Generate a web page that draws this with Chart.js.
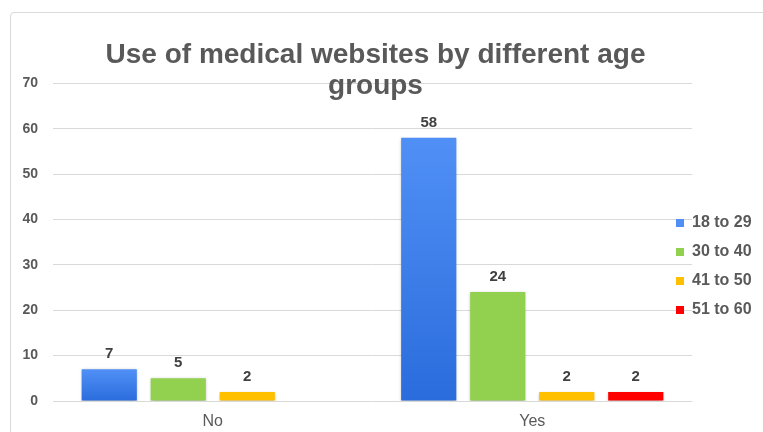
<!DOCTYPE html>
<html>
<head>
<meta charset="utf-8">
<script src="https://cdn.jsdelivr.net/npm/chart.js@4.4.1/dist/chart.umd.min.js"></script>
<style>
  html, body { margin: 0; padding: 0; background: #fff; overflow: hidden; }
  #wrap { position: relative; width: 763px; height: 432px; }
  #frame {
    position: absolute; left: 10px; top: 12px; width: 800px; height: 500px;
    border: 1px solid #d9d9d9; border-radius: 4px; box-sizing: border-box;
  }
  canvas { position: absolute; left: 0; top: 0; }
</style>
</head>
<body>
<div id="wrap">
  <div id="frame"></div>
  <canvas id="chart" width="763" height="432"></canvas>
</div>
<script>
const answers = ["No", "Yes"];
const ageGroups = ["18 to 29", "30 to 40", "41 to 50", "51 to 60"];
const age18to29 = [7, 58];
const age30to40 = [5, 24];
const age41to50 = [2, 2];
const age51to60 = [null, 2];
const yTicks = [0, 10, 20, 30, 40, 50, 60, 70];

const FONT = '"Liberation Sans", Arial, Helvetica, sans-serif';

// excel-ish vertical gradient, one per bar
function blueFill(context) {
  if (context.type !== "data" || context.raw == null) return "#3d82ee";
  const y = context.chart.scales.y;
  if (!y) return "#3d82ee";
  const top = y.getPixelForValue(context.raw);
  const base = y.getPixelForValue(0);
  if (!isFinite(top) || !isFinite(base)) return "#3d82ee";
  const g = context.chart.ctx.createLinearGradient(0, top, 0, base);
  g.addColorStop(0, "#5090f6");
  g.addColorStop(1, "#2a6cdc");
  return g;
}

const barShadow = {
  id: "barShadow",
  beforeDatasetDraw(chart) {
    const ctx = chart.ctx;
    ctx.save();
    ctx.shadowColor = "rgba(0,0,0,0.3)";
    ctx.shadowBlur = 3;
    ctx.shadowOffsetY = 1;
  },
  afterDatasetDraw(chart) {
    chart.ctx.restore();
  }
};

const valueLabels = {
  id: "valueLabels",
  afterDatasetsDraw(chart) {
    const ctx = chart.ctx;
    ctx.save();
    ctx.font = "bold 15px " + FONT;
    ctx.fillStyle = "#404040";
    ctx.textAlign = "center";
    ctx.textBaseline = "middle";
    chart.data.datasets.forEach((ds, i) => {
      chart.getDatasetMeta(i).data.forEach((bar, j) => {
        const v = ds.data[j];
        if (v == null) return;
        ctx.fillText(String(v), bar.x, bar.y - 15);
      });
    });
    ctx.restore();
  }
};

// legend sits partly over the plot in the original
const legendPlace = {
  id: "legendPlace",
  afterLayout(chart) {
    const lg = chart.legend;
    const h = lg.height;
    lg.left = 663; lg.width = 100; lg.right = lg.left + lg.width;
    lg.top = 202; lg.bottom = lg.top + h;
  }
};

const ctx = document.getElementById("chart").getContext("2d");
new Chart(ctx, {
  type: "bar",
  data: {
    labels: answers,
    datasets: [
      { label: ageGroups[0], data: age18to29, backgroundColor: blueFill },
      { label: ageGroups[1], data: age30to40, backgroundColor: "#92d050" },
      { label: ageGroups[2], data: age41to50, backgroundColor: "#ffc000" },
      { label: ageGroups[3], data: age51to60, backgroundColor: "#ff0000" }
    ]
  },
  options: {
    responsive: false,
    animation: false,
    categoryPercentage: 0.864,
    barPercentage: 0.8,
    layout: { padding: { left: 10, right: 22, top: 0, bottom: 0 } },
    plugins: {
      title: {
        display: true,
        text: ["Use of medical websites by different age", "groups"],
        color: "#595959",
        font: { family: FONT, size: 28, weight: "bold", lineHeight: 1.13 },
        padding: { top: 39, bottom: -19 }
      },
      legend: {
        position: "right",
        align: "start",
        maxWidth: 49,
        labels: {
          boxWidth: 8,
          boxHeight: 8,
          padding: 13,
          color: "#595959",
          font: { family: FONT, size: 16, weight: "bold" }
        }
      },
      tooltip: { enabled: false }
    },
    scales: {
      x: {
        grid: { display: false, drawTicks: false },
        border: { display: false },
        ticks: { color: "#595959", padding: 11, font: { family: FONT, size: 16 } },
        afterFit(scale) { scale.height = 31; }
      },
      y: {
        min: 0,
        max: 70,
        afterBuildTicks(scale) { scale.ticks = yTicks.map(v => ({ value: v })); },
        grid: { color: "#d9d9d9", lineWidth: 1, drawTicks: false },
        border: { display: false },
        ticks: { color: "#595959", padding: 15, font: { family: FONT, size: 14, weight: "bold" } },
        afterFit(scale) { scale.width = 43; }
      }
    }
  },
  plugins: [barShadow, valueLabels, legendPlace]
});
</script>
</body>
</html>
